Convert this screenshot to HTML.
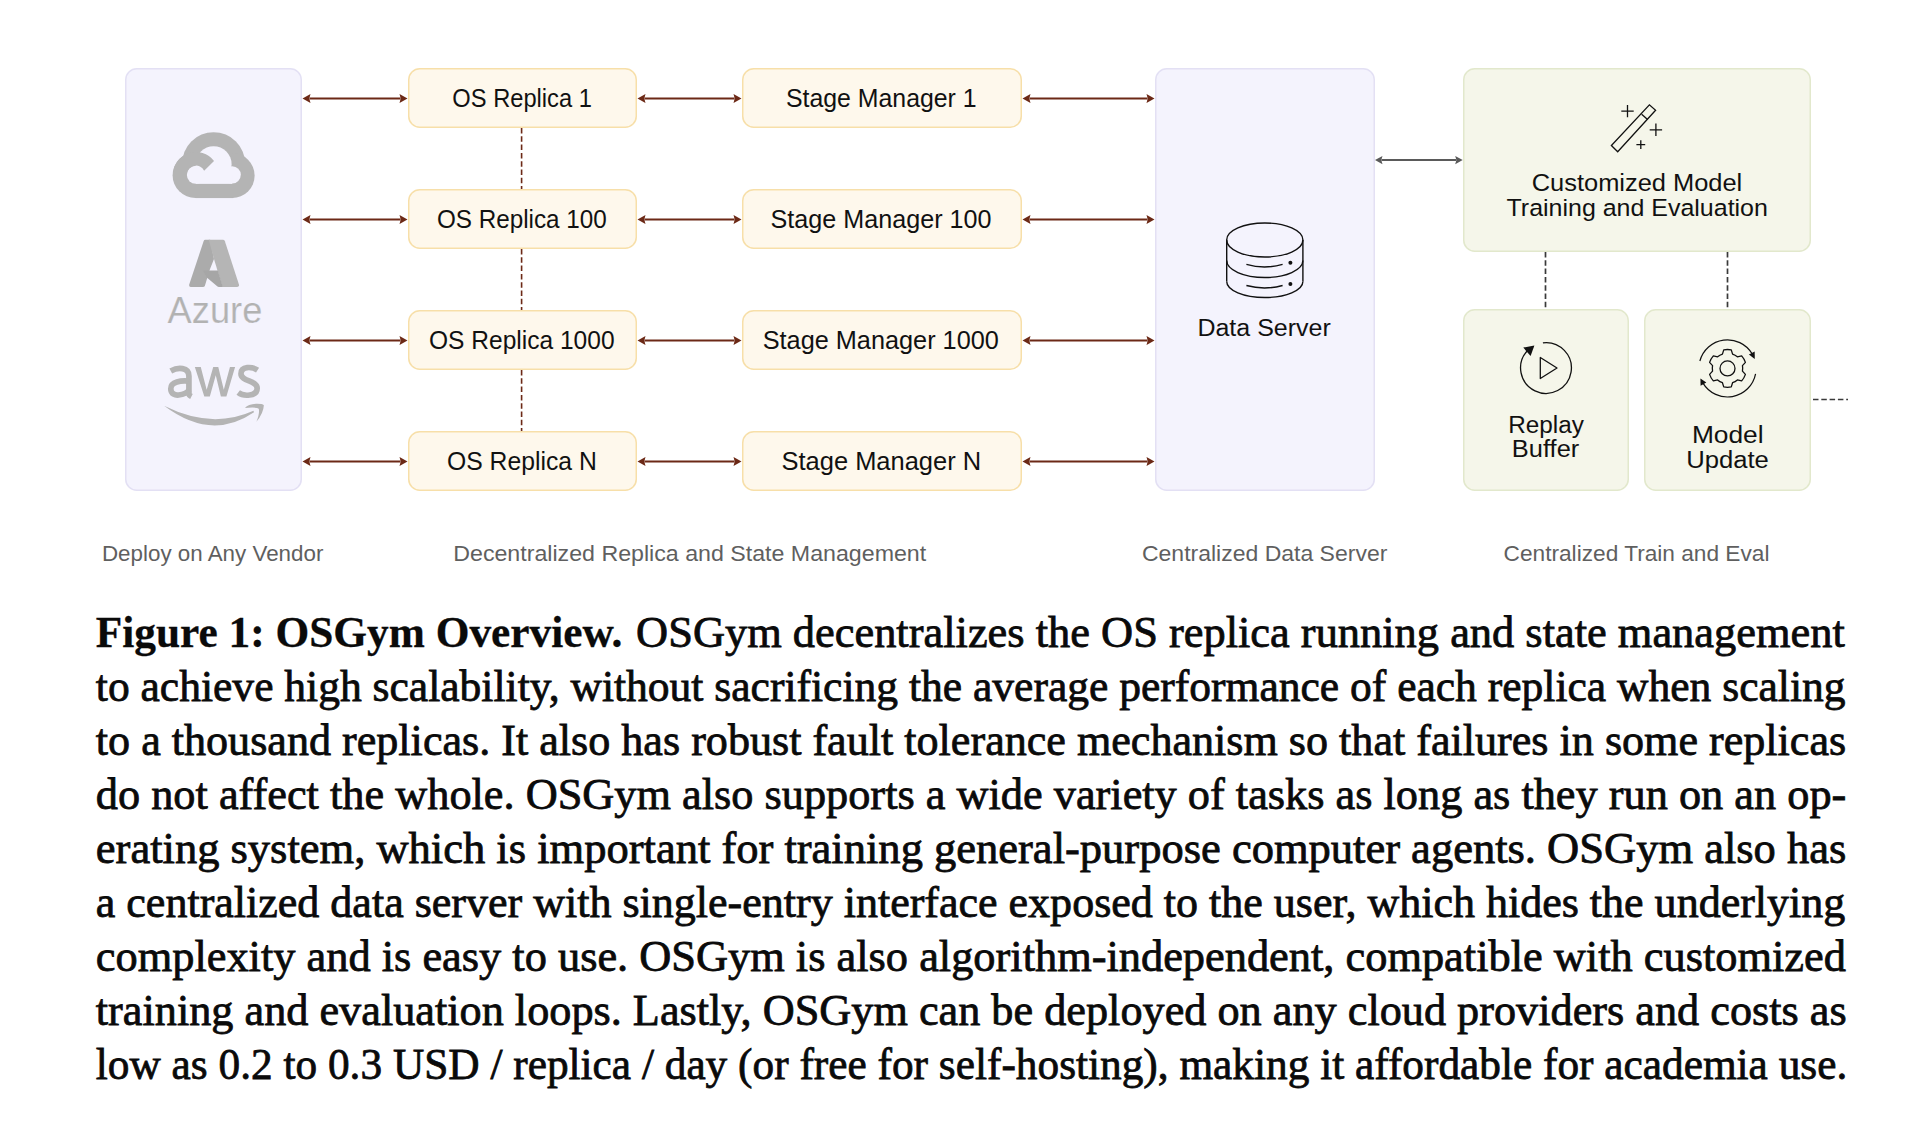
<!DOCTYPE html>
<html><head><meta charset="utf-8"><style>
html,body{margin:0;padding:0;background:#fff;}
body{width:1920px;height:1141px;overflow:hidden;position:relative;}
svg{position:absolute;left:0;top:0;}
svg text{font-family:"Liberation Sans",sans-serif;}
svg text.cap{font-family:"Liberation Serif",serif;font-size:45px;fill:#0a0a0a;stroke:#0a0a0a;stroke-width:0.8px;}
svg text.capb{font-weight:bold;stroke-width:0.3px;}
</style></head><body>
<svg width="1920" height="1141" viewBox="0 0 1920 1141">
<rect x="125.75" y="68.75" width="175.5" height="421.5" rx="11" fill="#F4F3FD" stroke="#E3E0F4" stroke-width="1.5"/>
<rect x="1155.75" y="68.75" width="218.5" height="421.5" rx="11" fill="#F4F3FD" stroke="#E3E0F4" stroke-width="1.5"/>
<rect x="408.75" y="68.75" width="227.5" height="58.5" rx="11" fill="#FEF8EC" stroke="#F7DFA9" stroke-width="1.5"/>
<rect x="742.75" y="68.75" width="278.5" height="58.5" rx="11" fill="#FEF8EC" stroke="#F7DFA9" stroke-width="1.5"/>
<rect x="408.75" y="189.75" width="227.5" height="58.5" rx="11" fill="#FEF8EC" stroke="#F7DFA9" stroke-width="1.5"/>
<rect x="742.75" y="189.75" width="278.5" height="58.5" rx="11" fill="#FEF8EC" stroke="#F7DFA9" stroke-width="1.5"/>
<rect x="408.75" y="310.75" width="227.5" height="58.5" rx="11" fill="#FEF8EC" stroke="#F7DFA9" stroke-width="1.5"/>
<rect x="742.75" y="310.75" width="278.5" height="58.5" rx="11" fill="#FEF8EC" stroke="#F7DFA9" stroke-width="1.5"/>
<rect x="408.75" y="431.75" width="227.5" height="58.5" rx="11" fill="#FEF8EC" stroke="#F7DFA9" stroke-width="1.5"/>
<rect x="742.75" y="431.75" width="278.5" height="58.5" rx="11" fill="#FEF8EC" stroke="#F7DFA9" stroke-width="1.5"/>
<rect x="1463.75" y="68.75" width="346.5" height="182.5" rx="11" fill="#F5F6EA" stroke="#E2E8CC" stroke-width="1.5"/>
<rect x="1463.75" y="309.75" width="164.5" height="180.5" rx="11" fill="#F5F6EA" stroke="#E2E8CC" stroke-width="1.5"/>
<rect x="1644.75" y="309.75" width="165.5" height="180.5" rx="11" fill="#F5F6EA" stroke="#E2E8CC" stroke-width="1.5"/>
<line x1="309.5" y1="98.5" x2="400.5" y2="98.5" stroke="#6C2916" stroke-width="2"/>
<path d="M302.5,98.5 L310.5,93.9 L309.3,98.5 L310.5,103.1 Z" fill="#6C2916"/>
<path d="M407.5,98.5 L399.5,93.9 L400.7,98.5 L399.5,103.1 Z" fill="#6C2916"/>
<line x1="644.5" y1="98.5" x2="734.5" y2="98.5" stroke="#6C2916" stroke-width="2"/>
<path d="M637.5,98.5 L645.5,93.9 L644.3,98.5 L645.5,103.1 Z" fill="#6C2916"/>
<path d="M741.5,98.5 L733.5,93.9 L734.7,98.5 L733.5,103.1 Z" fill="#6C2916"/>
<line x1="1029.5" y1="98.5" x2="1147.5" y2="98.5" stroke="#6C2916" stroke-width="2"/>
<path d="M1022.5,98.5 L1030.5,93.9 L1029.3,98.5 L1030.5,103.1 Z" fill="#6C2916"/>
<path d="M1154.5,98.5 L1146.5,93.9 L1147.7,98.5 L1146.5,103.1 Z" fill="#6C2916"/>
<line x1="309.5" y1="219.5" x2="400.5" y2="219.5" stroke="#6C2916" stroke-width="2"/>
<path d="M302.5,219.5 L310.5,214.9 L309.3,219.5 L310.5,224.1 Z" fill="#6C2916"/>
<path d="M407.5,219.5 L399.5,214.9 L400.7,219.5 L399.5,224.1 Z" fill="#6C2916"/>
<line x1="644.5" y1="219.5" x2="734.5" y2="219.5" stroke="#6C2916" stroke-width="2"/>
<path d="M637.5,219.5 L645.5,214.9 L644.3,219.5 L645.5,224.1 Z" fill="#6C2916"/>
<path d="M741.5,219.5 L733.5,214.9 L734.7,219.5 L733.5,224.1 Z" fill="#6C2916"/>
<line x1="1029.5" y1="219.5" x2="1147.5" y2="219.5" stroke="#6C2916" stroke-width="2"/>
<path d="M1022.5,219.5 L1030.5,214.9 L1029.3,219.5 L1030.5,224.1 Z" fill="#6C2916"/>
<path d="M1154.5,219.5 L1146.5,214.9 L1147.7,219.5 L1146.5,224.1 Z" fill="#6C2916"/>
<line x1="309.5" y1="340.5" x2="400.5" y2="340.5" stroke="#6C2916" stroke-width="2"/>
<path d="M302.5,340.5 L310.5,335.9 L309.3,340.5 L310.5,345.1 Z" fill="#6C2916"/>
<path d="M407.5,340.5 L399.5,335.9 L400.7,340.5 L399.5,345.1 Z" fill="#6C2916"/>
<line x1="644.5" y1="340.5" x2="734.5" y2="340.5" stroke="#6C2916" stroke-width="2"/>
<path d="M637.5,340.5 L645.5,335.9 L644.3,340.5 L645.5,345.1 Z" fill="#6C2916"/>
<path d="M741.5,340.5 L733.5,335.9 L734.7,340.5 L733.5,345.1 Z" fill="#6C2916"/>
<line x1="1029.5" y1="340.5" x2="1147.5" y2="340.5" stroke="#6C2916" stroke-width="2"/>
<path d="M1022.5,340.5 L1030.5,335.9 L1029.3,340.5 L1030.5,345.1 Z" fill="#6C2916"/>
<path d="M1154.5,340.5 L1146.5,335.9 L1147.7,340.5 L1146.5,345.1 Z" fill="#6C2916"/>
<line x1="309.5" y1="461.5" x2="400.5" y2="461.5" stroke="#6C2916" stroke-width="2"/>
<path d="M302.5,461.5 L310.5,456.9 L309.3,461.5 L310.5,466.1 Z" fill="#6C2916"/>
<path d="M407.5,461.5 L399.5,456.9 L400.7,461.5 L399.5,466.1 Z" fill="#6C2916"/>
<line x1="644.5" y1="461.5" x2="734.5" y2="461.5" stroke="#6C2916" stroke-width="2"/>
<path d="M637.5,461.5 L645.5,456.9 L644.3,461.5 L645.5,466.1 Z" fill="#6C2916"/>
<path d="M741.5,461.5 L733.5,456.9 L734.7,461.5 L733.5,466.1 Z" fill="#6C2916"/>
<line x1="1029.5" y1="461.5" x2="1147.5" y2="461.5" stroke="#6C2916" stroke-width="2"/>
<path d="M1022.5,461.5 L1030.5,456.9 L1029.3,461.5 L1030.5,466.1 Z" fill="#6C2916"/>
<path d="M1154.5,461.5 L1146.5,456.9 L1147.7,461.5 L1146.5,466.1 Z" fill="#6C2916"/>
<line x1="1381.5" y1="160.1" x2="1456.2" y2="160.1" stroke="#5a5a5a" stroke-width="2"/>
<path d="M1375,160.1 L1382.5,155.9 L1381.3,160.1 L1382.5,164.29999999999998 Z" fill="#5a5a5a"/>
<path d="M1462.7,160.1 L1455.2,155.9 L1456.4,160.1 L1455.2,164.29999999999998 Z" fill="#5a5a5a"/>
<line x1="521.6" y1="128" x2="521.6" y2="189" stroke="#6C2916" stroke-width="1.6" stroke-dasharray="5.5 2.8"/>
<line x1="521.6" y1="249" x2="521.6" y2="310" stroke="#6C2916" stroke-width="1.6" stroke-dasharray="5.5 2.8"/>
<line x1="521.6" y1="370" x2="521.6" y2="431" stroke="#6C2916" stroke-width="1.6" stroke-dasharray="5.5 2.8"/>
<line x1="1545.5" y1="252" x2="1545.5" y2="309" stroke="#3a3a3a" stroke-width="1.7" stroke-dasharray="5.5 2.8"/>
<line x1="1727.5" y1="252" x2="1727.5" y2="309" stroke="#3a3a3a" stroke-width="1.7" stroke-dasharray="5.5 2.8"/>
<line x1="1813" y1="399.5" x2="1848" y2="399.5" stroke="#3a3a3a" stroke-width="1.7" stroke-dasharray="5.5 2.8"/>
<g fill="none" stroke="#111" stroke-width="1.3" stroke-linejoin="miter"><path d="M1611.4,145.5 L1617.7,151.7 L1655.6,110.3 L1649.4,104.8 Z"/><path d="M1641.6,114.2 L1647.6,119.4"/><path d="M1621.3,111.1 H1633.7 M1627.5,104.9 V117.3"/><path d="M1649.7,129.8 H1662.1 M1655.9,123.6 V136"/><path d="M1636.4,144.7 H1645.2 M1640.8,140.3 V149.1"/></g>
<g fill="none" stroke="#111" stroke-width="1.4"><ellipse cx="1264.8" cy="240" rx="38.1" ry="17"/><path d="M1226.7,240 V281.5 M1302.9,240 V281.5"/><path d="M1226.7,260.5 A38.1,17 0 0 0 1302.9,260.5"/><path d="M1226.7,281.5 A38.1,16 0 0 0 1302.9,281.5"/><path d="M1246.4,264.4 Q1264.5,269.6 1282.6,264.4"/><path d="M1246.4,285.5 Q1264.5,290.4 1282.6,285.5"/></g>
<circle cx="1290.4" cy="262.8" r="2" fill="#111"/><circle cx="1290.4" cy="283.9" r="2" fill="#111"/>
<g fill="none" stroke="#111" stroke-width="1.3" stroke-linejoin="round"><path d="M1542.90,342.79 A25.4,25.4 0 1 1 1527.12,351.00"/><path d="M1540.3,357.5 L1540.3,378.5 L1557,368 Z"/></g>
<path d="M1523.3,347.6 L1534.4,345.6 L1530.6,356 Z" fill="#111"/>
<path d="M1722.43,354.07 L1723.73,349.88 A18.9,18.9 0 0 1 1731.27,349.88 L1732.57,354.07 A15.2,15.2 0 0 1 1737.37,356.84 L1741.66,355.88 A18.9,18.9 0 0 1 1745.42,362.40 L1742.45,365.63 A15.2,15.2 0 0 1 1742.45,371.17 L1745.42,374.40 A18.9,18.9 0 0 1 1741.66,380.92 L1737.37,379.96 A15.2,15.2 0 0 1 1732.57,382.73 L1731.27,386.92 A18.9,18.9 0 0 1 1723.73,386.92 L1722.43,382.73 A15.2,15.2 0 0 1 1717.63,379.96 L1713.34,380.92 A18.9,18.9 0 0 1 1709.58,374.40 L1712.55,371.17 A15.2,15.2 0 0 1 1712.55,365.63 L1709.58,362.40 A18.9,18.9 0 0 1 1713.34,355.88 L1717.63,356.84 A15.2,15.2 0 0 1 1722.43,354.07 Z" fill="none" stroke="#111" stroke-width="1.3" stroke-linejoin="round"/>
<circle cx="1727.5" cy="368.4" r="7.5" fill="none" stroke="#111" stroke-width="1.3"/>
<path d="M1699.87,361.00 A28.6,28.6 0 0 1 1752.01,353.67 M1755.57,373.86 A28.6,28.6 0 0 1 1702.99,383.13" fill="none" stroke="#111" stroke-width="1.2"/>
<path d="M1754.75,358.89 L1754.70,351.62 L1748.91,354.57 Z" fill="#111"/>
<path d="M1700.42,378.38 L1700.60,385.65 L1706.34,382.60 Z" fill="#111"/>
<g transform="translate(160,120) scale(0.078853)"><g fill="#B4B4B4"><circle cx="680" cy="555" r="400"/><circle cx="450" cy="700" r="290"/><circle cx="915" cy="705" r="285"/><rect x="450" y="555" width="480" height="435"/></g><g fill="#F4F3FD"><circle cx="455" cy="695" r="115"/><circle cx="915" cy="695" r="110"/><circle cx="680" cy="560" r="228"/><rect x="455" y="695" width="460" height="115"/></g><path fill="#B4B4B4" d="M560,645 L685,520 A290,290 0 0 0 165,695 L340,695 A115,115 0 0 1 560,645 Z"/></g>
<g transform="translate(160,230) scale(0.096407)"><path fill="#ABABAB" d="M470,102 L520,102 L560,300 L515,415 L465,582 Q460,592 445,592 L318,592 Q298,590 303,565 L453,115 Q458,102 470,102 Z"/><path fill="#B5B5B5" d="M505,102 L652,102 Q668,102 673,117 L818,562 Q825,590 800,592 L648,592 L560,300 Z"/><path fill="#A6A6A6" d="M445,420 L600,420 L652,592 L612,592 Q600,590 590,582 L488,495 Z"/></g>
<text x="0" y="0" transform="translate(167.6,323.2) scale(0.98,1)" font-size="37" fill="#B2B2B2" stroke="#F4F3FD" stroke-width="0.2">Azure</text>
<g transform="translate(155,350) scale(0.078895)"><g fill="none" stroke="#B4B4B4" stroke-width="72"><path d="M200,265 C290,215 430,215 430,330 L430,560 Q432,575 462,590"/><path d="M430,395 C330,385 200,400 200,490 C200,560 260,575 300,570 C360,565 410,540 430,510"/><path d="M1300,255 C1230,210 1090,200 1090,300 C1090,400 1295,385 1295,485 C1295,590 1120,590 1055,540"/></g><path fill="#B4B4B4" d="M505,215 L580,215 L655,505 L738,215 L802,215 L872,505 L950,215 L1015,215 L905,590 L835,590 L770,320 L695,590 L625,590 Z"/><path fill="#B4B4B4" d="M115,708 Q715,1160 1255,790 L1248,770 Q718,1010 115,708 Z"/><path fill="#B4B4B4" d="M1140,735 Q1180,690 1280,682 Q1360,680 1380,700 Q1375,800 1285,910 Q1330,800 1315,745 Q1290,722 1140,735 Z"/></g>
<text x="0" y="0" transform="translate(452.35,107.10) scale(0.9474,1.0)" font-size="25" fill="#111">OS Replica 1</text>
<text x="0" y="0" transform="translate(436.93,228.30) scale(0.9706,1.0)" font-size="25" fill="#111">OS Replica 100</text>
<text x="0" y="0" transform="translate(429.02,349.20) scale(0.9821,1.0)" font-size="25" fill="#111">OS Replica 1000</text>
<text x="0" y="0" transform="translate(447.01,470.20) scale(0.9890,1.0)" font-size="25" fill="#111">OS Replica N</text>
<text x="0" y="0" transform="translate(785.90,106.90) scale(0.9950,1.0)" font-size="25" fill="#111">Stage Manager 1</text>
<text x="0" y="0" transform="translate(770.49,227.90) scale(1.0064,1.0)" font-size="25" fill="#111">Stage Manager 100</text>
<text x="0" y="0" transform="translate(762.74,349.20) scale(1.0119,1.0)" font-size="25" fill="#111">Stage Manager 1000</text>
<text x="0" y="0" transform="translate(781.48,470.20) scale(1.0195,1.0)" font-size="25" fill="#111">Stage Manager N</text>
<text x="0" y="0" transform="translate(1531.73,190.50) scale(1.0175,0.95)" font-size="25" fill="#111">Customized Model</text>
<text x="0" y="0" transform="translate(1506.50,215.80) scale(0.9991,0.95)" font-size="25" fill="#111">Training and Evaluation</text>
<text x="0" y="0" transform="translate(1197.40,335.80) scale(1.0011,0.95)" font-size="25" fill="#111">Data Server</text>
<text x="0" y="0" transform="translate(1508.26,432.50) scale(0.9720,0.95)" font-size="25" fill="#111">Replay</text>
<text x="0" y="0" transform="translate(1511.86,457.00) scale(1.0184,0.95)" font-size="25" fill="#111">Buffer</text>
<text x="0" y="0" transform="translate(1691.89,442.80) scale(1.0537,0.95)" font-size="25" fill="#111">Model</text>
<text x="0" y="0" transform="translate(1686.20,467.80) scale(1.0261,0.95)" font-size="25" fill="#111">Update</text>
<text x="0" y="0" transform="translate(101.91,560.60) scale(1.0176,1.0)" font-size="22" fill="#5f5f5f">Deploy on Any Vendor</text>
<text x="0" y="0" transform="translate(453.24,560.60) scale(1.0543,1.0)" font-size="22" fill="#5f5f5f">Decentralized Replica and State Management</text>
<text x="0" y="0" transform="translate(1141.95,560.60) scale(1.0455,1.0)" font-size="22" fill="#5f5f5f">Centralized Data Server</text>
<text x="0" y="0" transform="translate(1503.57,560.60) scale(1.0314,1.0)" font-size="22" fill="#5f5f5f">Centralized Train and Eval</text>
<text class="cap capb" x="0" y="0" transform="translate(95.8,646.70) scale(0.96343,1)">Figure 1: OSGym Overview.</text>
<text class="cap" x="0" y="0" transform="translate(636.1,646.70) scale(0.98719,1)">OSGym decentralizes the OS replica running and state management</text>
<text class="cap" x="0" y="0" transform="translate(95.8,700.75) scale(0.96760,1)" xml:space="preserve">to achieve high scalability, without sacrificing the average performance of each replica when scaling</text>
<text class="cap" x="0" y="0" transform="translate(95.8,754.80) scale(0.98066,1)" xml:space="preserve">to a thousand replicas. It also has robust fault tolerance mechanism so that failures in some replicas</text>
<text class="cap" x="0" y="0" transform="translate(95.8,808.85) scale(0.98487,1)" xml:space="preserve">do not affect the whole. OSGym also supports a wide variety of tasks as long as they run on an op-</text>
<text class="cap" x="0" y="0" transform="translate(95.8,862.90) scale(0.98961,1)" xml:space="preserve">erating system, which is important for training general-purpose computer agents. OSGym also has</text>
<text class="cap" x="0" y="0" transform="translate(95.8,916.95) scale(0.97843,1)" xml:space="preserve">a centralized data server with single-entry interface exposed to the user, which hides the underlying</text>
<text class="cap" x="0" y="0" transform="translate(95.8,971.00) scale(0.98621,1)" xml:space="preserve">complexity and is easy to use. OSGym is also algorithm-independent, compatible with customized</text>
<text class="cap" x="0" y="0" transform="translate(95.8,1025.05) scale(0.98357,1)" xml:space="preserve">training and evaluation loops. Lastly, OSGym can be deployed on any cloud providers and costs as</text>
<text class="cap" x="0" y="0" transform="translate(95.8,1079.10) scale(0.96265,1)" xml:space="preserve">low as 0.2 to 0.3 USD / replica / day (or free for self-hosting), making it affordable for academia use.</text>
</svg>
</body></html>
